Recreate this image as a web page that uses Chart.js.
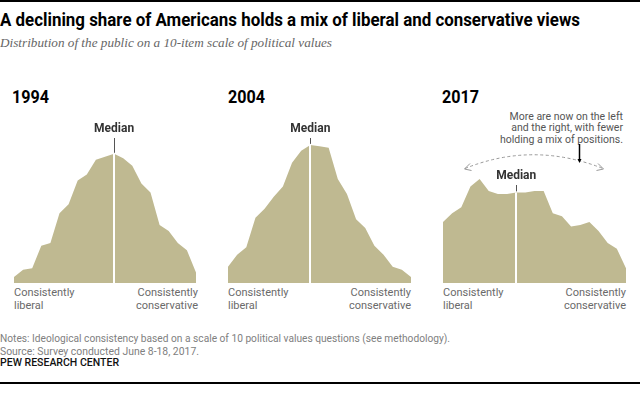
<!DOCTYPE html>
<html><head><meta charset="utf-8">
<script src="https://cdn.jsdelivr.net/npm/chart.js@4.4.1/dist/chart.umd.min.js"></script>
<style>
body{margin:0;width:640px;height:394px;position:relative;background:#fff;overflow:hidden;font-family:Roboto,"Liberation Sans",sans-serif;}
.abs{position:absolute;white-space:nowrap;line-height:1;}
#topline{left:0;top:0;width:640px;height:2px;background:#000;}
#botline{left:0;top:382px;width:640px;height:2px;background:#000;}
#title{left:0;top:12px;font-weight:bold;font-size:17.5px;color:#000;transform-origin:left top;}
#subtitle{left:0;top:36px;font-family:"Liberation Serif","DejaVu Serif",serif;font-style:italic;font-size:13px;color:#666;transform-origin:left top;}
.year{font-weight:bold;font-size:18px;color:#000;top:87.5px;transform-origin:left top;}
.median{font-weight:bold;font-size:12px;color:#333;transform:translateX(-50%);}
.axl{font-size:11px;color:#6a6a6a;line-height:12.5px;top:287px;}
.axr{text-align:right;}
.note{font-size:11px;color:#808080;transform-origin:left top;}
#pew{left:0;top:358px;font-size:10px;font-weight:500;color:#111;transform-origin:left top;}
#annot{right:17px;top:110.5px;text-align:right;font-size:10.5px;color:#555;line-height:11.5px;}
canvas{position:absolute;}
</style></head>
<body>
<div id="topline" class="abs"></div>
<div id="title" class="abs">A declining share of Americans holds a mix of liberal and conservative views</div>
<div id="subtitle" class="abs">Distribution of the public on a 10-item scale of political values</div>

<div id="y1994" class="abs year" style="left:12px">1994</div>
<div id="y2004" class="abs year" style="left:228px">2004</div>
<div id="y2017" class="abs year" style="left:442px">2017</div>

<div id="annot" class="abs">More are now on the left<br>and the right, with fewer<br>holding a mix of positions.</div>
<svg class="abs" style="left:0;top:0" width="640" height="394">
  <path d="M465 168.5 Q533 141 603 168.5" fill="none" stroke="#9a9a9a" stroke-width="1" stroke-dasharray="3 2.5"/>
  <path d="M470 163.5 L464.5 169 L471.5 170.5" fill="none" stroke="#9a9a9a" stroke-width="1"/>
  <path d="M598 163.5 L603.5 169 L596.5 170.5" fill="none" stroke="#9a9a9a" stroke-width="1"/>
  <line x1="579.5" y1="144" x2="579.5" y2="160" stroke="#000" stroke-width="1.5"/>
  <path d="M577.5 159 L581.5 159 L579.5 163 Z" fill="#000"/>
</svg>

<canvas id="c1994" width="182" height="150" style="left:14px;top:133px"></canvas>
<canvas id="c2004" width="183" height="150" style="left:228px;top:133px"></canvas>
<canvas id="c2017" width="183" height="150" style="left:443px;top:133px"></canvas>

<div id="m1994" class="abs median" style="top:122px">Median</div>
<div id="m2004" class="abs median" style="top:122px">Median</div>
<div id="m2017" class="abs median" style="top:169px">Median</div>

<div class="abs axl" style="left:14px">Consistently<br>liberal</div>
<div class="abs axl axr" style="left:96px;width:102px">Consistently<br>conservative</div>
<div class="abs axl" style="left:228px">Consistently<br>liberal</div>
<div class="abs axl axr" style="left:310px;width:101px">Consistently<br>conservative</div>
<div class="abs axl" style="left:443px">Consistently<br>liberal</div>
<div class="abs axl axr" style="left:525px;width:101px">Consistently<br>conservative</div>

<div id="notes" class="abs note" style="left:0;top:333px">Notes: Ideological consistency based on a scale of 10 political values questions (see methodology).</div>
<div id="source" class="abs note" style="left:0;top:346px">Source: Survey conducted June 8-18, 2017.</div>
<div id="pew" class="abs">PEW RESEARCH CENTER</div>
<div id="botline" class="abs"></div>

<script>
// Scale positions (consistently liberal -> consistently conservative)
const scalePoints = [-10,-9,-8,-7,-6,-5,-4,-3,-2,-1,0,1,2,3,4,5,6,7,8,9,10];
// Share of public (%) at each scale position
const share1994 = [0.4,0.9,1.0,2.5,2.7,4.7,5.3,6.9,7.3,8.3,8.5,8.7,8.4,7.9,6.7,6.1,3.9,3.5,2.7,2.2,0.7];
const share2004 = [1.1,1.9,2.4,4.4,5.0,5.8,6.5,8.1,8.9,9.3,9.2,9.1,7.0,6.0,4.3,3.7,2.5,1.9,1.1,0.9,0.4];
const share2017 = [4.1,4.7,5.1,6.5,7.0,6.2,6.0,6.0,6.1,6.1,6.2,6.2,4.7,4.5,3.8,3.9,4.1,3.5,2.7,2.3,1.0];
// Median scale position for each year
const years = ["1994","2004","2017"];
const medians = [1,-1,-2];

const FILL = "#bfb991";

function fitWidth(id, w) {
  const el = document.getElementById(id);
  const r = el.getBoundingClientRect().width;
  el.style.transform = 'scaleX(' + (w / r) + ')';
  return w / r;
}
fitWidth('title', 580);
fitWidth('subtitle', 332);
fitWidth('notes', 450);
fitWidth('source', 199);
fitWidth('pew', 119);
const ys = fitWidth('y1994', 37);
document.getElementById('y2004').style.transform = 'scaleX(' + ys + ')';
document.getElementById('y2017').style.transform = 'scaleX(' + ys + ')';

const medianPlugin = {
  id: 'medianLine',
  afterDatasetsDraw(chart, args, opts) {
    const {ctx, scales, chartArea} = chart;
    const idx = scalePoints.indexOf(opts.median);
    const x = Math.round(scales.x.getPixelForValue(idx));
    const v = chart.data.datasets[0].data[idx];
    const y = scales.y.getPixelForValue(v);
    ctx.save();
    ctx.strokeStyle = '#ffffff';
    ctx.lineWidth = 2;
    ctx.beginPath();
    ctx.moveTo(x, chartArea.bottom);
    ctx.lineTo(x, y);
    ctx.stroke();
    ctx.strokeStyle = '#555';
    ctx.lineWidth = 1;
    ctx.beginPath();
    ctx.moveTo(x + 0.5, y - 1);
    ctx.lineTo(x + 0.5, opts.tickTop);
    ctx.stroke();
    ctx.restore();
  }
};

function makeChart(year, values, median, tickTop) {
  const canvas = document.getElementById('c' + year);
  const chart = new Chart(canvas, {
    type: 'line',
    data: {
      labels: scalePoints,
      datasets: [{
        data: values,
        fill: 'origin',
        backgroundColor: FILL,
        borderColor: 'rgba(0,0,0,0)',
        borderWidth: 0,
        pointRadius: 0,
        tension: 0
      }]
    },
    options: {
      responsive: false,
      animation: false,
      layout: {padding: 0},
      plugins: {legend: {display: false}, tooltip: {enabled: false},
        medianLine: {median: median, tickTop: tickTop}},
      scales: {
        x: {type: 'category', display: false, offset: false},
        y: {display: false, min: 0, max: 10.1}
      }
    },
    plugins: [medianPlugin]
  });
  const idx = scalePoints.indexOf(median);
  const x = canvas.offsetLeft + chart.scales.x.getPixelForValue(idx);
  document.getElementById('m' + year).style.left = x + 'px';
  return chart;
}
const tickTops = [5, 5, 52];
makeChart(years[0], share1994, medians[0], tickTops[0]);
makeChart(years[1], share2004, medians[1], tickTops[1]);
makeChart(years[2], share2017, medians[2], tickTops[2]);
</script>
</body></html>
